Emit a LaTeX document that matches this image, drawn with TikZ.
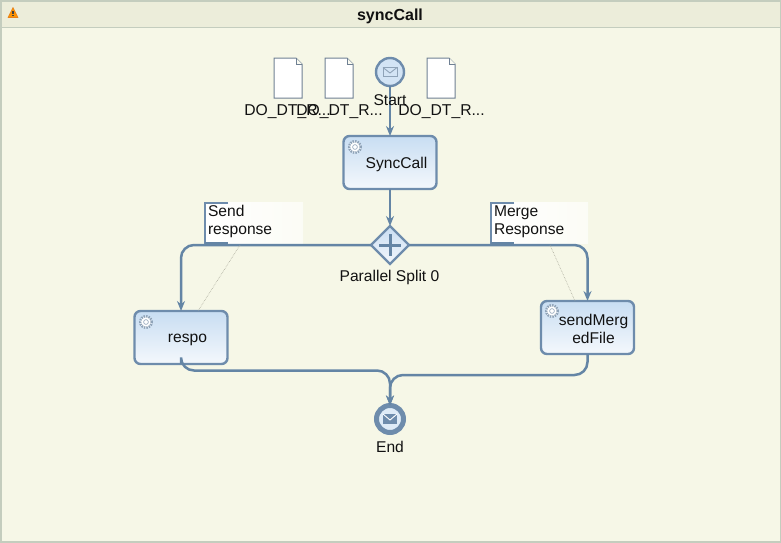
\documentclass[tikz,border=0pt]{standalone}
\usepackage{fontspec}
\setmainfont{Liberation Sans}
\usetikzlibrary{shapes.geometric,arrows.meta,calc}
\definecolor{bgc}{HTML}{F6F7E7}
\definecolor{titlec}{HTML}{ECEDDA}
\definecolor{framec}{HTML}{C4CDBE}
\definecolor{linec}{HTML}{6485A5}
\definecolor{boxline}{HTML}{6E8CAC}
\definecolor{boxtop}{HTML}{C8DDF2}
\definecolor{boxbot}{HTML}{F4F8FC}
\definecolor{docline}{HTML}{6F8093}
\definecolor{iconc}{HTML}{8FA3B8}
\definecolor{notec}{HTML}{A9A99A}
\definecolor{txt}{HTML}{111111}
\tikzset{
  x=1pt,y=-1pt,
  base/.style={inner sep=0pt,outer sep=0pt},
  lbl/.style={base,text=txt,font=\fontsize{15.6}{18}\selectfont},
  doclbl/.style={base,text=txt,font=\fontsize{15.7}{18}\selectfont},
  taskbox/.style={base,draw=boxline,line width=2.4pt,rounded corners=6pt,minimum width=93pt,minimum height=53pt,top color=boxtop,bottom color=boxbot},
  tasktext/.style={lbl,align=center},
  flow/.style={draw=linec,line width=2.5pt,rounded corners=13pt,-{Stealth[length=10pt,width=8pt]}},
  assoc/.style={draw=notec,line width=0.6pt,densely dotted},
  doc/.style={draw=docline,line width=1pt,fill=white},
  notefill/.style={left color=white,right color=bgc!40!white,draw=none},
  bracket/.style={draw=boxline,line width=2pt},
}
\newcommand{\geary}[2]{%
  \draw[iconc,line width=2.4pt,dash pattern=on 1.5pt off 1pt,fill=white] (#1,#2) circle (5.8pt);
  \draw[iconc,line width=0.6pt] (#1,#2) circle (2.4pt);
}
\newcommand{\envel}[3]{%
  \draw[#3,line width=0.9pt] (#1-7,#2-4.5) rectangle (#1+7,#2+4.5);
  \draw[#3,line width=0.9pt] (#1-7,#2-4.5) -- (#1,#2+1) -- (#1+7,#2-4.5);
}
\newcommand{\docshape}[2]{%
  \draw[doc] (#1,#2) -- (#1+22,#2) -- (#1+28,#2+6) -- (#1+28,#2+40) -- (#1,#2+40) -- cycle;
  \draw[docline,line width=0.6pt,fill=bgc!60!white] (#1+22,#2) -- (#1+22,#2+6) -- (#1+28,#2+6);
}
\begin{document}
\begin{tikzpicture}
\useasboundingbox (0,0) rectangle (781,542);
% panel
\fill[bgc] (0,0) rectangle (781,542);
\fill[titlec] (0,0) rectangle (781,27);
\draw[framec,line width=1pt] (0,27.5) -- (781,27.5);
\draw[framec,line width=3pt] (0,0) rectangle (781,542);
\node[base,font=\bfseries\fontsize{16}{18}\selectfont,text=txt] (title) at (390,16) {syncCall};
% warning icon
\fill[orange!85!yellow,draw=orange!60!brown,line width=0.6pt,line join=round] (13,7.5) -- (18,17.5) -- (8,17.5) -- cycle;
\fill[black!75] (12.3,10.5) rectangle (13.7,14.3);
\fill[black!75] (12.3,15) rectangle (13.7,16.4);
% annotations
\fill[notefill] (205,202) rectangle (303,243);
\fill[notefill] (491,202) rectangle (588,243);
% nodes
\node[base,circle,draw=boxline,line width=2.4pt,fill=boxtop!80!white,minimum size=28pt] (start) at (390,72) {};
\envel{390}{72}{iconc}
\node[taskbox] (sync) at (390,162.5) {};
\node[taskbox] (respo) at (181,337.5) {};
\node[taskbox] (send) at (587.5,327.5) {};
\node[base,diamond,aspect=1,draw=boxline,line width=2.4pt,top color=boxtop,bottom color=boxbot,minimum width=38pt,minimum height=38pt] (gw) at (390,245) {};
\draw[linec,line width=3pt] (379,245) -- (401,245);
\draw[linec,line width=3pt] (390,234) -- (390,256);
\node[base,circle,draw=boxline,line width=5pt,fill=boxtop!60!white,minimum size=27pt] (end) at (390,419) {};
\fill[boxline] (383,414) rectangle (397,424);
\draw[white,line width=0.9pt] (383,414) -- (390,420) -- (397,414);
% documents
\docshape{274}{58}
\docshape{325}{58}
\docshape{427}{58}
% connectors
\coordinate (ml) at (390,370.5);
\coordinate (mr) at (390,375);
\draw[flow] (start) -- (sync);
\draw[flow] (sync) -- (gw);
\draw[flow] (gw.west) -- (gw.west -| respo.north) -- (respo.north);
\draw[flow] (gw.east) -- (gw.east -| send.north) -- (send.north);
\draw[flow] (respo.south) -- (respo.south |- ml) -- (ml) -- (end.north);
\draw[flow] (send.south) -- (send.south |- mr) -- (mr) -- (end.north);
% note brackets and links
\coordinate (n1a) at (240,245);
\coordinate (n1b) at (198,311);
\coordinate (n2a) at (550,245);
\coordinate (n2b) at (575,301);
\draw[assoc] (n1a) -- (n1b);
\draw[assoc] (n2a) -- (n2b);
\draw[bracket] (228,203) -- (205,203) -- (205,244);
\draw[linec,line width=3.5pt] (205,243.8) -- (228,243.8);
\draw[bracket] (514,203) -- (491,203) -- (491,244);
\draw[linec,line width=3.5pt] (491,243.8) -- (514,243.8);
% gears
\geary{355}{147}
\geary{146}{322}
\geary{552}{311}
% labels
\node[tasktext] (tsync) at (396.5,164) {SyncCall};
\node[tasktext] (trespo) at (187.5,339.5) {respo};
\node[tasktext] (tsend) at (593.5,329) {sendMerg\\edFile};
\node[lbl,align=left,anchor=north west] (ts) at (208,205) {Send\\response};
\node[lbl,align=left,anchor=north west] (tm) at (494,206) {Merge\\Response};
\node[lbl] (tgw) at (389.5,277) {Parallel Split 0};
\node[lbl] (tstart) at (390,100) {Start};
\node[lbl] (tend) at (390,447) {End};
\node[doclbl] (d1) at (287.5,111.5) {DO\_DT\_R...};
\node[doclbl] (d2) at (339.5,111.5) {DO\_DT\_R...};
\node[doclbl] (d3) at (441.5,111.5) {DO\_DT\_R...};
\end{tikzpicture}
\end{document}
